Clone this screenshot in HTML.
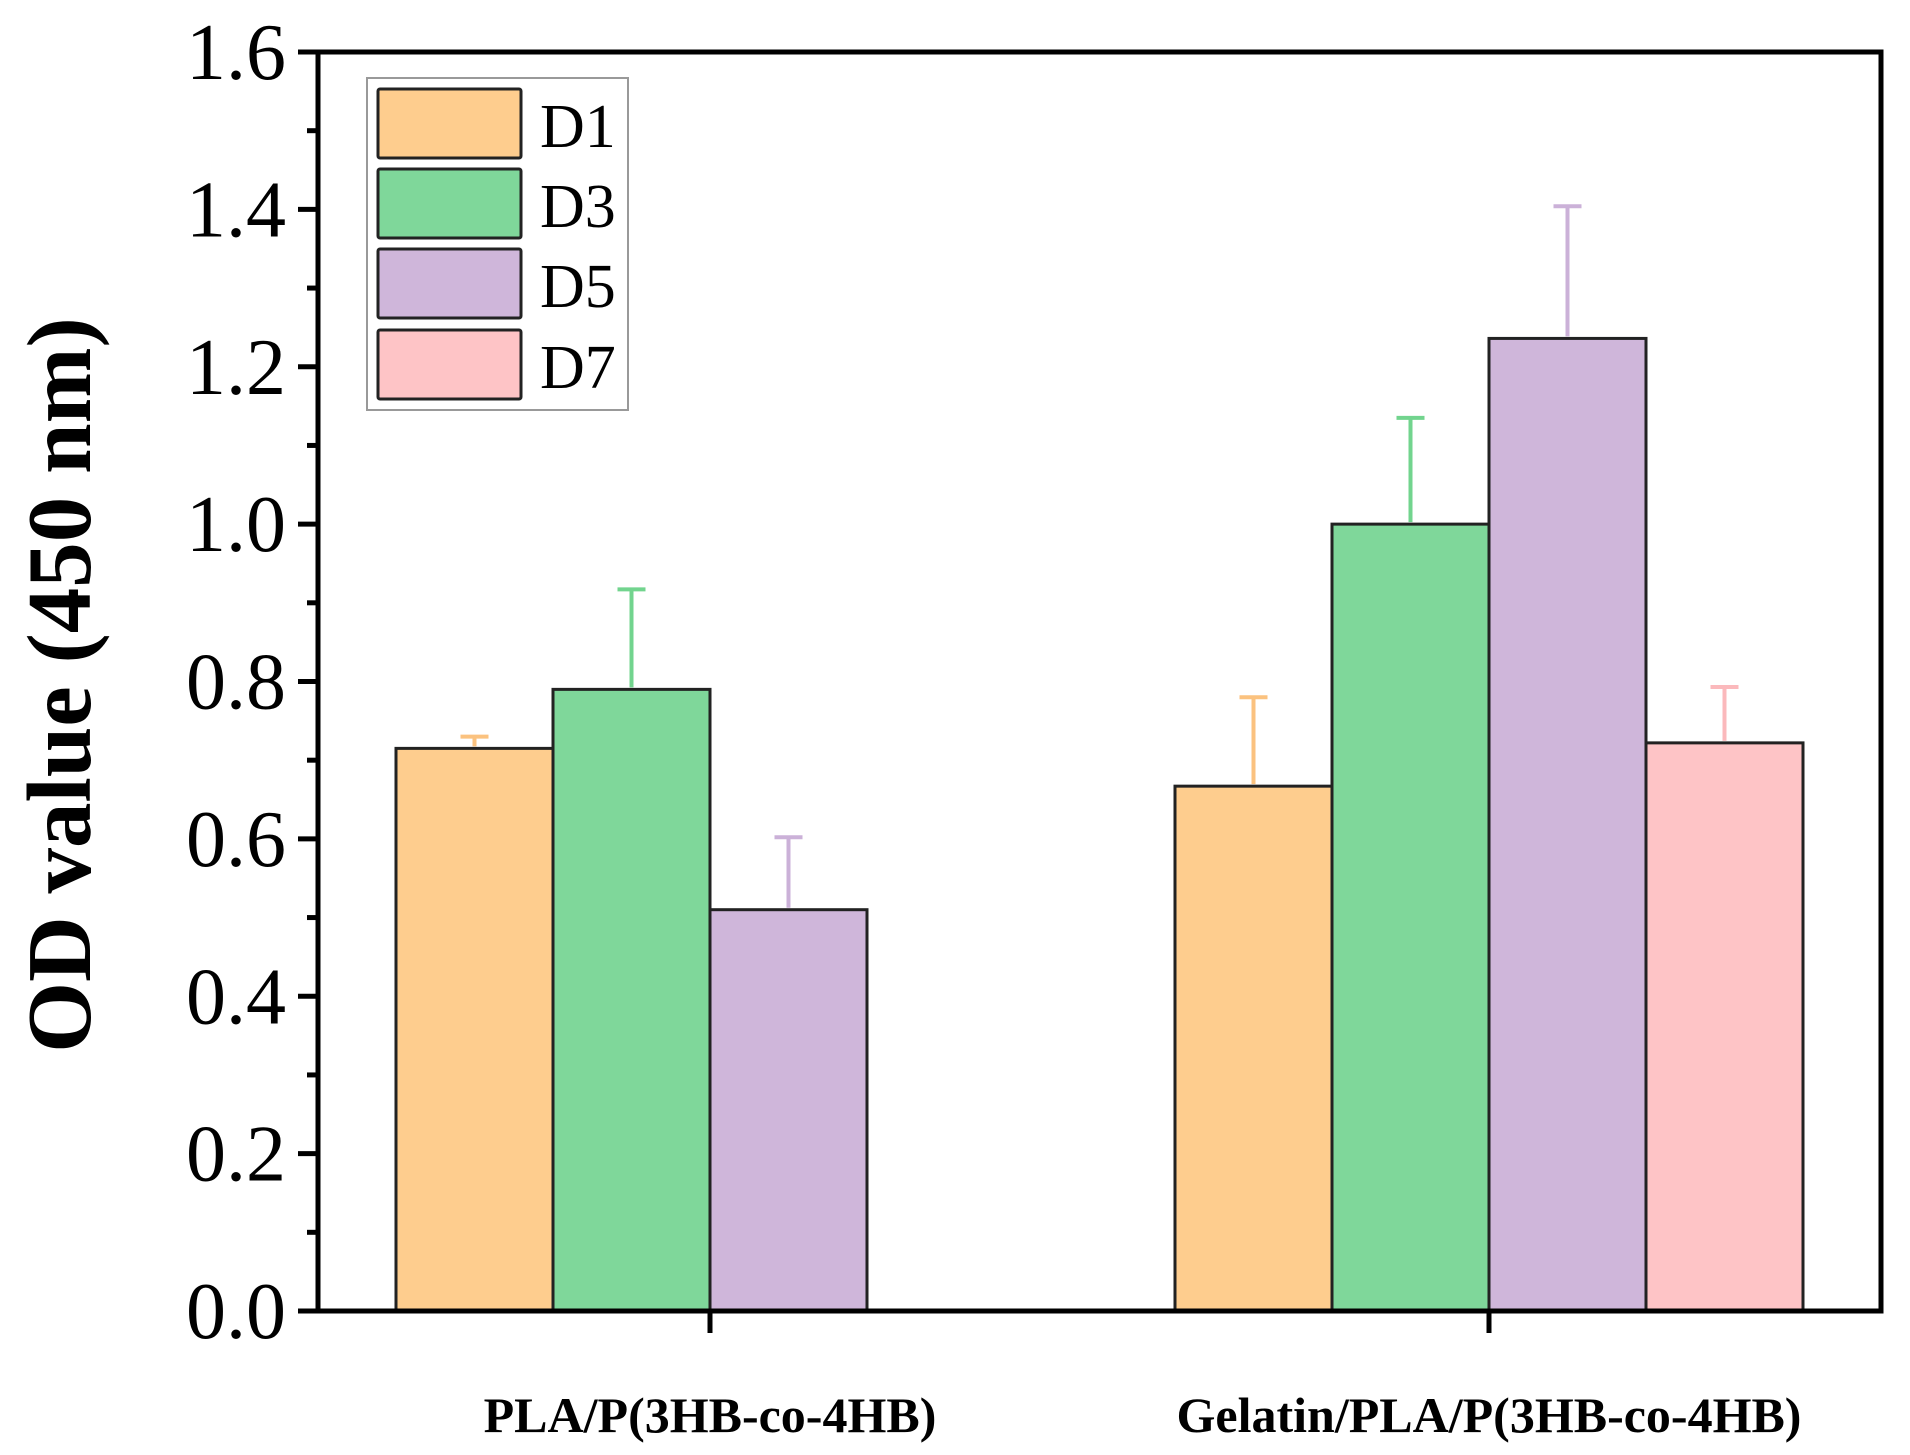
<!DOCTYPE html>
<html><head><meta charset="utf-8"><style>
html,body{margin:0;padding:0;background:#fff;}
svg{display:block;}
text{font-family:"Liberation Serif",serif;}
</style></head><body>
<svg id="chart" width="1910" height="1455" viewBox="0 0 1910 1455" xmlns="http://www.w3.org/2000/svg"></svg>
<script>
const categories = ["PLA/P(3HB-co-4HB)", "Gelatin/PLA/P(3HB-co-4HB)"];
const seriesNames = ["D1", "D3", "D5", "D7"];
const d1Values = [0.715, 0.667];
const d3Values = [0.790, 1.000];
const d5Values = [0.510, 1.236];
const d7Values = [null, 0.722];
const d1Errors = [0.015, 0.113];
const d3Errors = [0.127, 0.135];
const d5Errors = [0.092, 0.168];
const d7Errors = [null, 0.071];
const yTicks = [0.0, 0.2, 0.4, 0.6, 0.8, 1.0, 1.2, 1.4, 1.6];

const fills = ["#fecd8e", "#7fd79a", "#cfb6da", "#fec4c6"];
const errColors = ["#fbc27f", "#72d48e", "#cbb1d8", "#fbb9bc"];
const values = [d1Values, d3Values, d5Values, d7Values];
const errors = [d1Errors, d3Errors, d5Errors, d7Errors];

const NS = "http://www.w3.org/2000/svg";
const svg = document.getElementById("chart");
const L = 318, R = 1881, T = 52, B = 1311;
const yMin = 0, yMax = 1.6;
function y(v){ return B - (v - yMin) / (yMax - yMin) * (B - T); }
const groupCenters = [710, 1489];
const barW = 157;
function x(gi, si){ return groupCenters[gi] - 2 * barW + si * barW; }

function mk(tag, attrs, parent){
  const e = document.createElementNS(NS, tag);
  for (const k in attrs) e.setAttribute(k, attrs[k]);
  (parent || svg).appendChild(e);
  return e;
}

for (let s = 0; s < 4; s++){
  for (let g = 0; g < categories.length; g++){
    const v = values[s][g];
    if (v === null || v === undefined) continue;
    const bx = x(g, s), by = y(v);
    const r = mk("rect", {x: bx, y: by, width: barW, height: B - by, fill: fills[s], stroke: "#222", "stroke-width": 3});
    
    
    const e = errors[s][g];
    const cx = bx + barW / 2, ty = y(v + e);
    const eg = mk("g", {stroke: errColors[s], "stroke-width": 4});
    
    
    mk("line", {x1: cx, x2: cx, y1: by - 2, y2: ty}, eg);
    mk("line", {x1: cx - 14, x2: cx + 14, y1: ty, y2: ty}, eg);
  }
}

const frame = mk("rect", {x: L, y: T, width: R - L, height: B - T, fill: "none", stroke: "#000", "stroke-width": 5});



for (let i = 0; i < yTicks.length; i++){
  const t = yTicks[i];
  const yy = y(t);
  const tk = mk("line", {x1: L - 20, x2: L, y1: yy, y2: yy, stroke: "#000", "stroke-width": 5});
  
  
  const lb = mk("text", {x: 286, y: yy + 27, "text-anchor": "end", "font-size": 80, fill: "#000"});
  lb.textContent = t.toFixed(1);
  
  
  if (i < yTicks.length - 1){
    const my = y(t + 0.1);
    const mt = mk("line", {x1: L - 11, x2: L, y1: my, y2: my, stroke: "#000", "stroke-width": 5});
    
    
  }
}

for (let g = 0; g < categories.length; g++){
  const cx = groupCenters[g];
  const tk = mk("line", {x1: cx, x2: cx, y1: B, y2: B + 22, stroke: "#000", "stroke-width": 5});
  
  
  const lb = mk("text", {x: cx, y: 1432, "text-anchor": "middle", "font-size": 50, "font-weight": "bold", fill: "#000"});
  lb.textContent = categories[g];
  
  
}

const yt = mk("text", {x: 0, y: 0, "text-anchor": "middle", "font-size": 91, "font-weight": "bold", fill: "#000", transform: "translate(90,685) rotate(-90)"});
yt.textContent = "OD value (450 nm)";



const lg = mk("g", {});


mk("rect", {x: 367, y: 78, width: 261, height: 332, fill: "#fff", stroke: "#999", "stroke-width": 2}, lg);
const swY = [89, 169, 249, 330];
for (let s = 0; s < 4; s++){
  const sw = mk("rect", {x: 378, y: swY[s], width: 143, height: 69, fill: fills[s], stroke: "#222", "stroke-width": 3, rx: 2}, lg);
  
  
  const tx = mk("text", {x: 540, y: swY[s] + 58, "font-size": 62, fill: "#000"}, lg);
  tx.textContent = seriesNames[s];
  
  
}
</script>
</body></html>
